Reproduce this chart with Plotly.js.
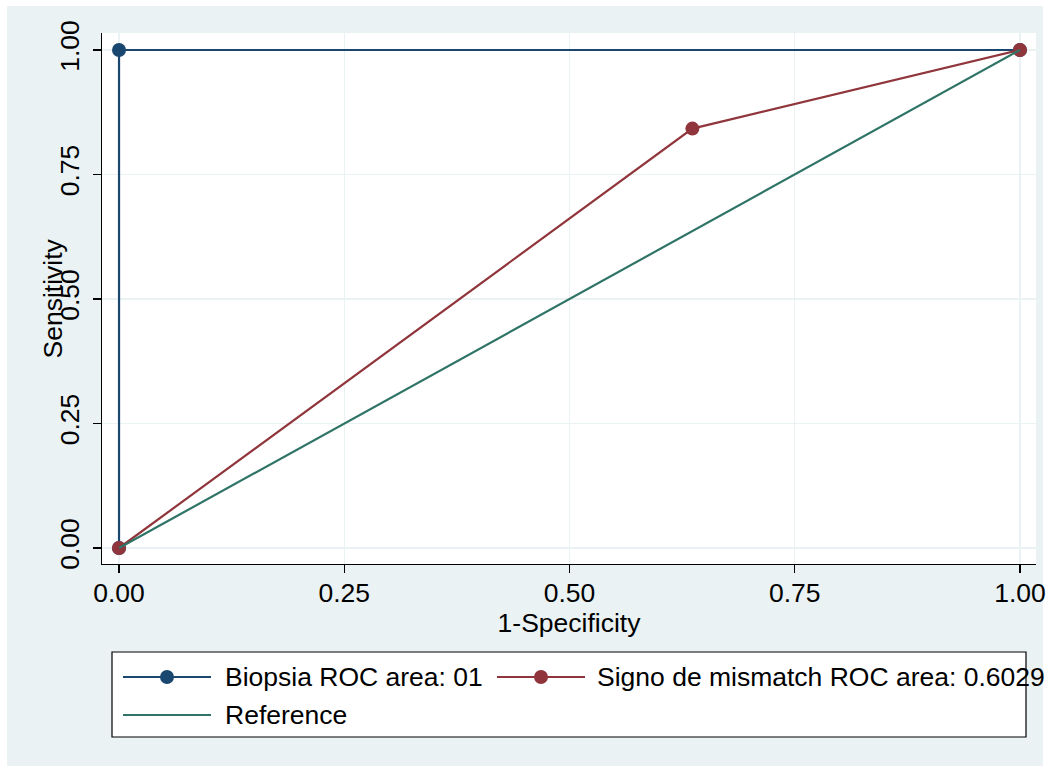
<!DOCTYPE html>
<html>
<head>
<meta charset="utf-8">
<script src="https://cdn.plot.ly/plotly-3.0.1.min.js"></script>
<style>html,body{margin:0;padding:0;background:#fff;}#chart{width:1049px;height:771px;}</style>
</head>
<body>
<div id="chart"></div>
<script>
// ---- data ----
const biopsiaFpr = [0, 0, 1];
const biopsiaTpr = [0, 1, 1];
const signoFpr = [0, 0.6364, 1];
const signoTpr = [0, 0.8421, 1];
const referenceFpr = [0, 1];
const referenceTpr = [0, 1];
const tickValues = [0, 0.25, 0.5, 0.75, 1];
const tickLabels = ["0.00", "0.25", "0.50", "0.75", "1.00"];
const seriesNames = ["Biopsia ROC area: 01", "Signo de mismatch ROC area: 0.6029", "Reference"];
const xTitle = "1-Specificity";
const yTitle = "Sensitivity";

// ---- style ----
const NAVY = "#1A476F", MAROON = "#90353B", TEAL = "#2F7466", BG = "#EAF2F3";
const FONT = "Liberation Sans, Arial, Helvetica, sans-serif";
const FS = 26.5;
const W = 1049, H = 771;
const L = 102, R = 1036, T = 33, B = 564;
const px = x => (x - L) / (R - L);
const py = y => (B - y) / (B - T);

const traces = [
  {x: biopsiaFpr, y: biopsiaTpr, name: seriesNames[0], mode: "lines+markers",
   line: {color: NAVY, width: 2.2}, marker: {color: NAVY, size: 14}, showlegend: false, cliponaxis: false},
  {x: signoFpr, y: signoTpr, name: seriesNames[1], mode: "lines+markers",
   line: {color: MAROON, width: 2.2}, marker: {color: MAROON, size: 14}, showlegend: false, cliponaxis: false},
  {x: referenceFpr, y: referenceTpr, name: seriesNames[2], mode: "lines",
   line: {color: TEAL, width: 2.2}, showlegend: false, cliponaxis: false}
];

const shapes = [
  {type: "rect", xref: "paper", yref: "paper", layer: "below",
   x0: px(7), x1: px(1043), y0: py(6), y1: py(766), fillcolor: BG, line: {width: 0}},
  {type: "rect", xref: "paper", yref: "paper", layer: "below",
   x0: 0, x1: 1, y0: 0, y1: 1, fillcolor: "#FFFFFF", line: {width: 0}},
  {type: "rect", xref: "paper", yref: "paper", layer: "below",
   x0: px(112), x1: px(1026), y0: py(652), y1: py(737), fillcolor: "#FFFFFF", line: {color: "#000", width: 1.2}},
  // legend keys
  {type: "line", xref: "paper", yref: "paper", x0: px(123), x1: px(211), y0: py(677), y1: py(677), line: {color: NAVY, width: 2.2}},
  {type: "circle", xref: "paper", yref: "paper", x0: px(160), x1: px(174), y0: py(670), y1: py(684), fillcolor: NAVY, line: {width: 0}},
  {type: "line", xref: "paper", yref: "paper", x0: px(497), x1: px(585), y0: py(677), y1: py(677), line: {color: MAROON, width: 2.2}},
  {type: "circle", xref: "paper", yref: "paper", x0: px(534), x1: px(548), y0: py(670), y1: py(684), fillcolor: MAROON, line: {width: 0}},
  {type: "line", xref: "paper", yref: "paper", x0: px(123), x1: px(211), y0: py(715), y1: py(715), line: {color: TEAL, width: 2.2}}
];

const legendText = (t, x, y) => ({text: t, xref: "paper", yref: "paper", x: px(x), y: py(y),
  xanchor: "left", yanchor: "middle", showarrow: false, font: {family: FONT, size: FS, color: "#000"}});

const annotations = [
  {text: yTitle, xref: "paper", yref: "paper", x: px(52), y: py(298.5), textangle: -90,
   xanchor: "center", yanchor: "middle", showarrow: false, font: {family: FONT, size: FS, color: "#000"}},
  legendText(seriesNames[0], 223, 677),
  legendText(seriesNames[1], 595, 677),
  legendText(seriesNames[2], 223, 715)
];

const layout = {
  width: W, height: H,
  margin: {l: L, r: W - R, t: T, b: H - B, pad: 0},
  paper_bgcolor: "#FFFFFF", plot_bgcolor: "#FFFFFF",
  font: {family: FONT, size: FS, color: "#000"},
  showlegend: false,
  xaxis: {
    range: [-0.0189, 1.0178], tickvals: tickValues, ticktext: tickLabels,
    showline: true, linecolor: "#000", linewidth: 1.2, mirror: false,
    ticks: "outside", ticklen: 8, tickwidth: 1.2, tickcolor: "#000", ticklabelstandoff: -3,
    showgrid: true, gridcolor: BG, gridwidth: 1.5, zeroline: false,
    tickfont: {family: FONT, size: FS, color: "#000"},
    title: {text: xTitle, font: {family: FONT, size: FS, color: "#000"}, standoff: 3}
  },
  yaxis: {
    range: [-0.0321, 1.0341], tickvals: tickValues, ticktext: tickLabels, tickangle: -90,
    showline: true, linecolor: "#000", linewidth: 1.2, mirror: false,
    ticks: "outside", ticklen: 8, tickwidth: 1.2, tickcolor: "#000", ticklabelstandoff: 3,
    showgrid: true, gridcolor: BG, gridwidth: 1.5, zeroline: false,
    tickfont: {family: FONT, size: FS, color: "#000"}
  },
  shapes: shapes,
  annotations: annotations
};

Plotly.newPlot("chart", traces, layout, {displayModeBar: false, staticPlot: true});
</script>
</body>
</html>
